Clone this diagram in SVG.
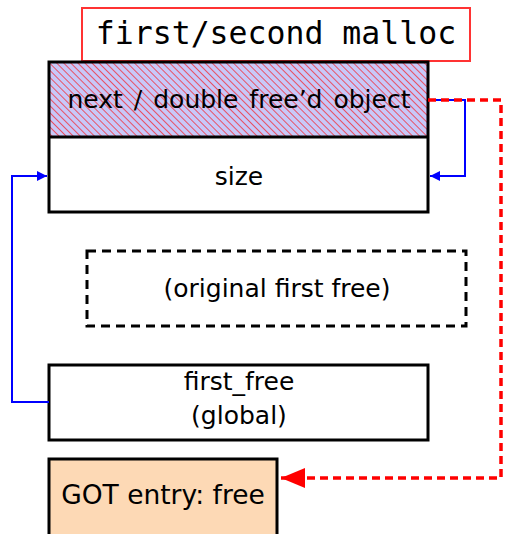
<svg xmlns="http://www.w3.org/2000/svg" width="505" height="534" viewBox="0 0 505 534">
  <defs>
    <pattern id="hatch" width="5" height="5" patternUnits="userSpaceOnUse" patternTransform="rotate(-45)">
      <rect width="5" height="5" fill="#c8c8f8"/>
      <line x1="0" y1="0" x2="0" y2="5" stroke="#ff0000" stroke-width="1.2"/>
    </pattern>
    <marker id="blueHead" viewBox="0 0 10 10" refX="10" refY="5" markerWidth="10" markerHeight="10" markerUnits="userSpaceOnUse" orient="auto">
      <path d="M0,0 L10,5 L0,10 Z" fill="#0000ff"/>
    </marker>
    <marker id="redHead" viewBox="0 0 24 20" refX="24" refY="10" markerWidth="24" markerHeight="20" markerUnits="userSpaceOnUse" orient="auto">
      <path d="M0,0 L24,10 L0,20 Z" fill="#ff0000"/>
    </marker>
  </defs>
  <style>
    .box { fill: #ffffff; stroke: #000000; stroke-width: 3; }
    .lbl { font-family: "DejaVu Sans", "Liberation Sans", sans-serif; font-size: 25px; fill: #000000; text-anchor: middle; }
    .mono { font-family: "DejaVu Sans Mono", "Liberation Mono", monospace; font-size: 31.5px; fill: #000000; text-anchor: middle; }
    .blue { fill: none; stroke: #0000ff; stroke-width: 2; }
    .red { fill: none; stroke: #ff0000; stroke-width: 3.5; stroke-dasharray: 8 5; }
  </style>

  <g id="title">
    <rect x="82" y="8" width="388" height="53" fill="#ffffff" stroke="#ff3333" stroke-width="2"/>
    <text class="mono" x="276" y="44">first/second malloc</text>
  </g>

  <g id="chunk">
    <rect x="49" y="62" width="379" height="75" fill="url(#hatch)"/>
    <rect x="49" y="137" width="379" height="75" fill="#ffffff"/>
    <rect x="49" y="62" width="379" height="150" fill="none" stroke="#000000" stroke-width="3"/>
    <line x1="49" y1="137" x2="428" y2="137" stroke="#000000" stroke-width="3"/>
    <text class="lbl" x="239" y="108" style="word-spacing:3px">next / double free’d object</text>
    <text class="lbl" x="239" y="185">size</text>
  </g>

  <g id="original-first-free">
    <rect x="87" y="251" width="379" height="75" fill="none" stroke="#000000" stroke-width="3" stroke-dasharray="9 6"/>
    <text class="lbl" x="277" y="297">(original first free)</text>
  </g>

  <g id="first-free">
    <rect class="box" x="49" y="365" width="379" height="75"/>
    <text class="lbl" x="239" y="390">first_free</text>
    <text class="lbl" x="239" y="424">(global)</text>
  </g>

  <g id="got-entry">
    <rect x="49" y="459" width="228" height="80" fill="#fdd9b5" stroke="#000000" stroke-width="3"/>
    <text class="lbl" x="163" y="504" style="font-size:26.5px">GOT entry: free</text>
  </g>

  <g id="connectors">
    <polyline class="blue" points="428,100 465,100 465,176 430,176" marker-end="url(#blueHead)"/>
    <polyline class="blue" points="49,402 12,402 12,176 47,176" marker-end="url(#blueHead)"/>
    <polyline class="red" points="428,100 501,100 501,478 281,478" marker-end="url(#redHead)"/>
  </g>
</svg>
